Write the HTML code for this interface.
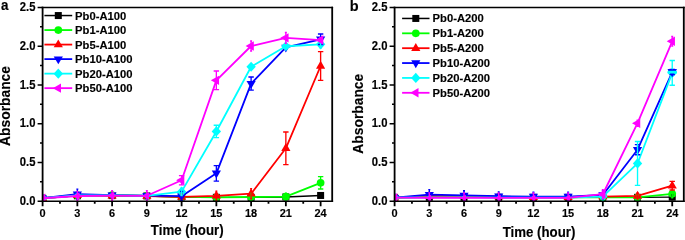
<!DOCTYPE html>
<html lang="en">
<head>
<meta charset="utf-8">
<title>Absorbance vs time</title>
<style>
html,body{margin:0;padding:0;background:#fff;}
body{width:685px;height:240px;overflow:hidden;}
svg{display:block;}
text{font-family:"Liberation Sans",Arial,Helvetica,sans-serif;font-weight:bold;fill:#000;stroke:#000;stroke-width:0.15px;}
.t{font-size:12.0px;}
.tx{font-size:11.8px;}
.a{font-size:13.8px;}
.ay{font-size:14.4px;}
.l{font-size:11.6px;}
.p{font-size:14.6px;}
.pb{font-size:14.5px;}
</style>
</head>
<body>
<svg width="685" height="240" viewBox="0 0 685 240">
<rect width="685" height="240" fill="#fff"/>
<g id="panel-a">
<clipPath id="clip-a"><rect x="42.60" y="7.50" width="289.60" height="193.70"/></clipPath>
<g clip-path="url(#clip-a)">
<polyline points="42.60,198.26 77.35,195.78 112.10,195.62 146.86,195.93 181.61,196.94 216.36,197.33 251.11,197.33 285.86,196.94 320.62,195.47" fill="none" stroke="#000000" stroke-width="1.4" stroke-linejoin="round"/>
<rect x="39.10" y="194.76" width="7.00" height="7.00" fill="#000000"/>
<rect x="73.85" y="192.28" width="7.00" height="7.00" fill="#000000"/>
<rect x="108.60" y="192.12" width="7.00" height="7.00" fill="#000000"/>
<rect x="143.36" y="192.43" width="7.00" height="7.00" fill="#000000"/>
<rect x="178.11" y="193.44" width="7.00" height="7.00" fill="#000000"/>
<rect x="212.86" y="193.83" width="7.00" height="7.00" fill="#000000"/>
<rect x="247.61" y="193.83" width="7.00" height="7.00" fill="#000000"/>
<rect x="282.36" y="193.44" width="7.00" height="7.00" fill="#000000"/>
<rect x="317.12" y="191.97" width="7.00" height="7.00" fill="#000000"/>
<polyline points="42.60,198.26 77.35,195.39 112.10,195.00 146.86,195.78 181.61,196.94 216.36,197.33 251.11,197.02 285.86,196.71 320.62,182.84" fill="none" stroke="#00ff00" stroke-width="1.8" stroke-linejoin="round"/>
<circle cx="42.60" cy="198.26" r="3.85" fill="#00ff00"/>
<circle cx="77.35" cy="195.39" r="3.85" fill="#00ff00"/>
<circle cx="112.10" cy="195.00" r="3.85" fill="#00ff00"/>
<circle cx="146.86" cy="195.78" r="3.85" fill="#00ff00"/>
<circle cx="181.61" cy="196.94" r="3.85" fill="#00ff00"/>
<circle cx="216.36" cy="197.33" r="3.85" fill="#00ff00"/>
<circle cx="251.11" cy="197.02" r="3.85" fill="#00ff00"/>
<circle cx="285.86" cy="196.71" r="3.85" fill="#00ff00"/>
<circle cx="320.62" cy="182.84" r="3.85" fill="#00ff00"/>
<polyline points="42.60,198.26 77.35,195.39 112.10,195.78 146.86,196.09 181.61,196.94 216.36,195.78 251.11,193.68 285.86,148.28 320.62,66.00" fill="none" stroke="#ff0000" stroke-width="1.8" stroke-linejoin="round"/>
<polygon points="42.60,193.06 47.20,200.96 38.00,200.96" fill="#ff0000"/>
<polygon points="77.35,190.19 81.95,198.09 72.75,198.09" fill="#ff0000"/>
<polygon points="112.10,190.58 116.70,198.48 107.50,198.48" fill="#ff0000"/>
<polygon points="146.86,190.89 151.46,198.79 142.26,198.79" fill="#ff0000"/>
<polygon points="181.61,191.74 186.21,199.64 177.01,199.64" fill="#ff0000"/>
<polygon points="216.36,190.58 220.96,198.48 211.76,198.48" fill="#ff0000"/>
<polygon points="251.11,188.48 255.71,196.38 246.51,196.38" fill="#ff0000"/>
<polygon points="285.86,143.08 290.46,150.98 281.26,150.98" fill="#ff0000"/>
<polygon points="320.62,60.80 325.22,68.70 316.02,68.70" fill="#ff0000"/>
<polyline points="42.60,198.26 77.35,194.23 112.10,195.16 146.86,195.62 181.61,196.16 216.36,173.31 251.11,83.59 285.86,47.40 320.62,39.27" fill="none" stroke="#0000ff" stroke-width="1.8" stroke-linejoin="round"/>
<polygon points="42.60,203.46 47.20,195.56 38.00,195.56" fill="#0000ff"/>
<polygon points="77.35,199.43 81.95,191.53 72.75,191.53" fill="#0000ff"/>
<polygon points="112.10,200.36 116.70,192.46 107.50,192.46" fill="#0000ff"/>
<polygon points="146.86,200.82 151.46,192.92 142.26,192.92" fill="#0000ff"/>
<polygon points="181.61,201.36 186.21,193.46 177.01,193.46" fill="#0000ff"/>
<polygon points="216.36,178.51 220.96,170.61 211.76,170.61" fill="#0000ff"/>
<polygon points="251.11,88.79 255.71,80.89 246.51,80.89" fill="#0000ff"/>
<polygon points="285.86,52.60 290.46,44.70 281.26,44.70" fill="#0000ff"/>
<polygon points="320.62,44.47 325.22,36.57 316.02,36.57" fill="#0000ff"/>
<polyline points="42.60,198.26 77.35,195.39 112.10,195.39 146.86,195.78 181.61,191.67 216.36,131.47 251.11,66.77 285.86,46.24 320.62,44.30" fill="none" stroke="#00ffff" stroke-width="1.8" stroke-linejoin="round"/>
<polygon points="42.60,193.16 47.30,198.26 42.60,203.36 37.90,198.26" fill="#00ffff"/>
<polygon points="77.35,191.82 80.64,195.39 77.35,198.96 74.06,195.39" fill="#00ffff"/>
<polygon points="112.10,191.82 115.39,195.39 112.10,198.96 108.81,195.39" fill="#00ffff"/>
<polygon points="146.86,192.21 150.15,195.78 146.86,199.35 143.57,195.78" fill="#00ffff"/>
<polygon points="181.61,186.57 186.31,191.67 181.61,196.77 176.91,191.67" fill="#00ffff"/>
<polygon points="216.36,126.37 221.06,131.47 216.36,136.57 211.66,131.47" fill="#00ffff"/>
<polygon points="251.11,61.67 255.81,66.77 251.11,71.87 246.41,66.77" fill="#00ffff"/>
<polygon points="285.86,41.14 290.56,46.24 285.86,51.34 281.16,46.24" fill="#00ffff"/>
<polygon points="320.62,39.20 325.32,44.30 320.62,49.40 315.92,44.30" fill="#00ffff"/>
<path d="M251.11,193.14V200.89M250.11,193.14h2.00M250.11,200.89h2.00M285.86,193.22V200.19M284.86,193.22h2.00M284.86,200.19h2.00M320.62,176.64V189.04M317.92,176.64h5.40M317.92,189.04h5.40" stroke="#00ff00" stroke-width="1.35" fill="none"/>
<path d="M112.10,192.68V198.88M111.10,192.68h2.00M111.10,198.88h2.00M146.86,193.76V198.41M145.86,193.76h2.00M145.86,198.41h2.00M181.61,193.84V200.04M180.61,193.84h2.00M180.61,200.04h2.00M216.36,191.13V200.43M215.36,191.13h2.00M215.36,200.43h2.00M251.11,188.65V198.72M250.11,188.65h2.00M250.11,198.72h2.00M285.86,132.01V164.55M283.16,132.01h5.40M283.16,164.55h5.40M320.62,51.66V80.33M317.92,51.66h5.40M317.92,80.33h5.40" stroke="#ff0000" stroke-width="1.35" fill="none"/>
<path d="M77.35,189.19V199.26M76.35,189.19h2.00M76.35,199.26h2.00M112.10,192.83V197.48M111.10,192.83h2.00M111.10,197.48h2.00M146.86,193.30V197.95M145.86,193.30h2.00M145.86,197.95h2.00M181.61,191.51V200.81M180.01,191.51h3.20M180.01,200.81h3.20M216.36,165.56V181.06M213.66,165.56h5.40M213.66,181.06h5.40M251.11,77.00V90.17M248.41,77.00h5.40M248.41,90.17h5.40M320.62,34.00V44.54M317.92,34.00h5.40M317.92,44.54h5.40" stroke="#0000ff" stroke-width="1.35" fill="none"/>
<path d="M181.61,187.80V195.54M180.61,187.80h2.00M180.61,195.54h2.00M216.36,125.27V137.67M213.66,125.27h5.40M213.66,137.67h5.40M251.11,64.45V69.10M250.11,64.45h2.00M250.11,69.10h2.00M285.86,43.92V48.56M284.86,43.92h2.00M284.86,48.56h2.00M320.62,40.43V48.18M319.62,40.43h2.00M319.62,48.18h2.00" stroke="#00ffff" stroke-width="1.35" fill="none"/>
<polyline points="42.60,198.26 77.35,196.01 112.10,195.62 146.86,195.78 181.61,180.20 216.36,80.33 251.11,46.01 285.86,37.87 320.62,40.04" fill="none" stroke="#ff00ff" stroke-width="1.8" stroke-linejoin="round"/>
<polygon points="37.10,198.26 45.30,193.56 45.30,202.96" fill="#ff00ff"/>
<polygon points="72.95,196.01 79.51,192.25 79.51,199.77" fill="#ff00ff"/>
<polygon points="107.70,195.62 114.26,191.86 114.26,199.38" fill="#ff00ff"/>
<polygon points="142.46,195.78 149.02,192.02 149.02,199.54" fill="#ff00ff"/>
<polygon points="176.11,180.20 184.31,175.50 184.31,184.90" fill="#ff00ff"/>
<polygon points="210.86,80.33 219.06,75.63 219.06,85.03" fill="#ff00ff"/>
<polygon points="245.61,46.01 253.81,41.31 253.81,50.71" fill="#ff00ff"/>
<polygon points="280.36,37.87 288.56,33.17 288.56,42.57" fill="#ff00ff"/>
<polygon points="315.12,40.04 323.32,35.34 323.32,44.74" fill="#ff00ff"/>
<path d="M42.60,195.93V200.58M41.60,195.93h2.00M41.60,200.58h2.00M77.35,191.36V200.66M76.35,191.36h2.00M76.35,200.66h2.00M112.10,190.59V200.66M111.10,190.59h2.00M111.10,200.66h2.00M146.86,190.74V200.81M145.86,190.74h2.00M145.86,200.81h2.00M181.61,175.55V184.85M178.91,175.55h5.40M178.91,184.85h5.40M216.36,71.03V89.63M213.66,71.03h5.40M213.66,89.63h5.40M251.11,40.97V51.04M250.11,40.97h2.00M250.11,51.04h2.00M285.86,32.45V43.30M284.86,32.45h2.00M284.86,43.30h2.00M320.62,37.72V42.37M319.62,37.72h2.00M319.62,42.37h2.00" stroke="#ff00ff" stroke-width="1.35" fill="none"/>
</g>
<path d="M41.70,7.50H333.10M41.70,201.20H333.10" fill="none" stroke="#000" stroke-width="1.5"/>
<path d="M42.60,6.75V201.95M332.20,6.75V201.95" fill="none" stroke="#000" stroke-width="1.8"/>
<path d="M42.60,201.20h-5.0M42.60,181.83h-2.6M42.60,162.46h-5.0M42.60,143.09h-2.6M42.60,123.72h-5.0M42.60,104.35h-2.6M42.60,84.98h-5.0M42.60,65.61h-2.6M42.60,46.24h-5.0M42.60,26.87h-2.6M42.60,7.50h-5.0" stroke="#000" stroke-width="1.5" fill="none"/>
<path d="M42.60,201.20v5.0M59.98,201.20v2.6M77.35,201.20v5.0M94.73,201.20v2.6M112.10,201.20v5.0M129.48,201.20v2.6M146.86,201.20v5.0M164.23,201.20v2.6M181.61,201.20v5.0M198.98,201.20v2.6M216.36,201.20v5.0M233.74,201.20v2.6M251.11,201.20v5.0M268.49,201.20v2.6M285.86,201.20v5.0M303.24,201.20v2.6M320.62,201.20v5.0" stroke="#000" stroke-width="1.8" fill="none"/>
<text class="t" transform="translate(35.50,204.75) scale(0.94,1)" text-anchor="end">0.0</text>
<text class="t" transform="translate(35.50,166.08) scale(0.94,1)" text-anchor="end">0.5</text>
<text class="t" transform="translate(35.50,127.41) scale(0.94,1)" text-anchor="end">1.0</text>
<text class="t" transform="translate(35.50,88.74) scale(0.94,1)" text-anchor="end">1.5</text>
<text class="t" transform="translate(35.50,50.07) scale(0.94,1)" text-anchor="end">2.0</text>
<text class="t" transform="translate(35.50,11.40) scale(0.94,1)" text-anchor="end">2.5</text>
<text class="tx" transform="translate(42.60,217.10) scale(0.93,1)" text-anchor="middle">0</text>
<text class="tx" transform="translate(77.35,217.10) scale(0.93,1)" text-anchor="middle">3</text>
<text class="tx" transform="translate(112.10,217.10) scale(0.93,1)" text-anchor="middle">6</text>
<text class="tx" transform="translate(146.86,217.10) scale(0.93,1)" text-anchor="middle">9</text>
<text class="tx" transform="translate(181.61,217.10) scale(0.93,1)" text-anchor="middle">12</text>
<text class="tx" transform="translate(216.36,217.10) scale(0.93,1)" text-anchor="middle">15</text>
<text class="tx" transform="translate(251.11,217.10) scale(0.93,1)" text-anchor="middle">18</text>
<text class="tx" transform="translate(285.86,217.10) scale(0.93,1)" text-anchor="middle">21</text>
<text class="tx" transform="translate(320.62,217.10) scale(0.93,1)" text-anchor="middle">24</text>
<text class="a" transform="translate(187.20,234.50) scale(0.962,1)" text-anchor="middle">Time (hour)</text>
<text class="ay" transform="translate(10.20,105.95) rotate(-90) scale(0.96,1)" text-anchor="middle">Absorbance</text>
<text class="p" transform="translate(1.00,10.10) scale(0.92,1)">a</text>
<path d="M44.4,15.55H72.2" stroke="#000000" stroke-width="1.5"/>
<rect x="54.80" y="12.05" width="7.00" height="7.00" fill="#000000"/>
<text class="l" transform="translate(75.10,19.55) scale(0.97,1)">Pb0-A100</text>
<path d="M44.4,30.07H72.2" stroke="#00ff00" stroke-width="1.8"/>
<circle cx="58.30" cy="30.07" r="3.85" fill="#00ff00"/>
<text class="l" transform="translate(75.10,34.07) scale(0.97,1)">Pb1-A100</text>
<path d="M44.4,44.59H72.2" stroke="#ff0000" stroke-width="1.8"/>
<polygon points="58.30,39.39 62.90,47.29 53.70,47.29" fill="#ff0000"/>
<text class="l" transform="translate(75.10,48.59) scale(0.97,1)">Pb5-A100</text>
<path d="M44.4,59.11H72.2" stroke="#0000ff" stroke-width="1.8"/>
<polygon points="58.30,64.31 62.90,56.41 53.70,56.41" fill="#0000ff"/>
<text class="l" transform="translate(75.10,63.11) scale(0.97,1)">Pb10-A100</text>
<path d="M44.4,73.63H72.2" stroke="#00ffff" stroke-width="1.8"/>
<polygon points="58.30,68.53 63.00,73.63 58.30,78.73 53.60,73.63" fill="#00ffff"/>
<text class="l" transform="translate(75.10,77.63) scale(0.97,1)">Pb20-A100</text>
<path d="M44.4,88.15H72.2" stroke="#ff00ff" stroke-width="1.8"/>
<polygon points="52.80,88.15 61.00,83.45 61.00,92.85" fill="#ff00ff"/>
<text class="l" transform="translate(75.10,92.15) scale(0.97,1)">Pb50-A100</text>
</g>
<g id="panel-b">
<clipPath id="clip-b"><rect x="394.60" y="7.50" width="289.20" height="193.70"/></clipPath>
<g clip-path="url(#clip-b)">
<polyline points="394.60,197.71 429.30,197.33 464.01,197.33 498.71,197.33 533.42,197.33 568.12,197.33 602.82,197.33 637.53,197.33 672.23,197.17" fill="none" stroke="#000000" stroke-width="1.4" stroke-linejoin="round"/>
<rect x="391.10" y="194.21" width="7.00" height="7.00" fill="#000000"/>
<rect x="425.80" y="193.83" width="7.00" height="7.00" fill="#000000"/>
<rect x="460.51" y="193.83" width="7.00" height="7.00" fill="#000000"/>
<rect x="495.21" y="193.83" width="7.00" height="7.00" fill="#000000"/>
<rect x="529.92" y="193.83" width="7.00" height="7.00" fill="#000000"/>
<rect x="564.62" y="193.83" width="7.00" height="7.00" fill="#000000"/>
<rect x="599.32" y="193.83" width="7.00" height="7.00" fill="#000000"/>
<rect x="634.03" y="193.83" width="7.00" height="7.00" fill="#000000"/>
<rect x="668.73" y="193.67" width="7.00" height="7.00" fill="#000000"/>
<polyline points="394.60,197.71 429.30,196.94 464.01,196.94 498.71,197.33 533.42,197.33 568.12,197.33 602.82,197.33 637.53,197.33 672.23,193.84" fill="none" stroke="#00ff00" stroke-width="1.8" stroke-linejoin="round"/>
<circle cx="394.60" cy="197.71" r="3.85" fill="#00ff00"/>
<circle cx="429.30" cy="196.94" r="2.69" fill="#00ff00"/>
<circle cx="464.01" cy="196.94" r="2.69" fill="#00ff00"/>
<circle cx="498.71" cy="197.33" r="2.69" fill="#00ff00"/>
<circle cx="533.42" cy="197.33" r="2.69" fill="#00ff00"/>
<circle cx="568.12" cy="197.33" r="2.69" fill="#00ff00"/>
<circle cx="602.82" cy="197.33" r="3.85" fill="#00ff00"/>
<circle cx="637.53" cy="197.33" r="3.85" fill="#00ff00"/>
<circle cx="672.23" cy="193.84" r="3.85" fill="#00ff00"/>
<polyline points="394.60,197.71 429.30,195.78 464.01,196.16 498.71,196.55 533.42,197.33 568.12,197.33 602.82,196.55 637.53,195.93 672.23,185.70" fill="none" stroke="#ff0000" stroke-width="1.8" stroke-linejoin="round"/>
<polygon points="394.60,192.51 399.20,200.41 390.00,200.41" fill="#ff0000"/>
<polygon points="429.30,190.58 433.90,198.48 424.70,198.48" fill="#ff0000"/>
<polygon points="464.01,190.96 468.61,198.86 459.41,198.86" fill="#ff0000"/>
<polygon points="498.71,191.35 503.31,199.25 494.11,199.25" fill="#ff0000"/>
<polygon points="533.42,192.13 538.02,200.03 528.82,200.03" fill="#ff0000"/>
<polygon points="568.12,192.13 572.72,200.03 563.52,200.03" fill="#ff0000"/>
<polygon points="602.82,191.35 607.42,199.25 598.22,199.25" fill="#ff0000"/>
<polygon points="637.53,190.73 642.13,198.63 632.93,198.63" fill="#ff0000"/>
<polygon points="672.23,180.50 676.83,188.40 667.63,188.40" fill="#ff0000"/>
<polyline points="394.60,197.71 429.30,194.61 464.01,195.39 498.71,196.16 533.42,196.55 568.12,196.55 602.82,195.00 637.53,149.68 672.23,72.04" fill="none" stroke="#0000ff" stroke-width="1.8" stroke-linejoin="round"/>
<polygon points="394.60,202.91 399.20,195.01 390.00,195.01" fill="#0000ff"/>
<polygon points="429.30,199.81 433.90,191.91 424.70,191.91" fill="#0000ff"/>
<polygon points="464.01,200.59 468.61,192.69 459.41,192.69" fill="#0000ff"/>
<polygon points="498.71,201.36 503.31,193.46 494.11,193.46" fill="#0000ff"/>
<polygon points="533.42,201.75 538.02,193.85 528.82,193.85" fill="#0000ff"/>
<polygon points="568.12,201.75 572.72,193.85 563.52,193.85" fill="#0000ff"/>
<polygon points="602.82,200.20 607.42,192.30 598.22,192.30" fill="#0000ff"/>
<polygon points="637.53,154.88 642.13,146.98 632.93,146.98" fill="#0000ff"/>
<polygon points="672.23,77.24 676.83,69.34 667.63,69.34" fill="#0000ff"/>
<polyline points="394.60,197.71 429.30,197.33 464.01,197.33 498.71,197.71 533.42,197.71 568.12,197.71 602.82,196.55 637.53,163.47 672.23,72.89" fill="none" stroke="#00ffff" stroke-width="1.8" stroke-linejoin="round"/>
<polygon points="394.60,192.61 399.30,197.71 394.60,202.81 389.90,197.71" fill="#00ffff"/>
<polygon points="429.30,194.78 431.65,197.33 429.30,199.88 426.95,197.33" fill="#00ffff"/>
<polygon points="464.01,194.78 466.36,197.33 464.01,199.88 461.66,197.33" fill="#00ffff"/>
<polygon points="498.71,195.16 501.06,197.71 498.71,200.26 496.36,197.71" fill="#00ffff"/>
<polygon points="533.42,195.16 535.77,197.71 533.42,200.26 531.07,197.71" fill="#00ffff"/>
<polygon points="568.12,195.16 570.47,197.71 568.12,200.26 565.77,197.71" fill="#00ffff"/>
<polygon points="602.82,191.45 607.52,196.55 602.82,201.65 598.12,196.55" fill="#00ffff"/>
<polygon points="637.53,158.37 642.23,163.47 637.53,168.57 632.83,163.47" fill="#00ffff"/>
<polygon points="672.23,67.79 676.93,72.89 672.23,77.99 667.53,72.89" fill="#00ffff"/>
<path d="M672.23,194.85V199.50M671.23,194.85h2.00M671.23,199.50h2.00" stroke="#000000" stroke-width="1.35" fill="none"/>
<path d="M637.53,195.00V199.65M636.53,195.00h2.00M636.53,199.65h2.00M672.23,189.97V197.71M671.23,189.97h2.00M671.23,197.71h2.00" stroke="#00ff00" stroke-width="1.35" fill="none"/>
<path d="M602.82,194.23V198.88M601.82,194.23h2.00M601.82,198.88h2.00M637.53,192.83V199.03M636.53,192.83h2.00M636.53,199.03h2.00M672.23,181.44V189.97M669.53,181.44h5.40M669.53,189.97h5.40" stroke="#ff0000" stroke-width="1.35" fill="none"/>
<path d="M429.30,189.58V199.65M428.30,189.58h2.00M428.30,199.65h2.00M464.01,190.74V200.04M463.01,190.74h2.00M463.01,200.04h2.00M498.71,191.90V200.43M497.71,191.90h2.00M497.71,200.43h2.00M533.42,192.29V200.81M532.42,192.29h2.00M532.42,200.81h2.00M568.12,192.29V200.81M567.12,192.29h2.00M567.12,200.81h2.00M602.82,190.74V199.26M601.82,190.74h2.00M601.82,199.26h2.00M637.53,144.56V154.79M634.83,144.56h5.40M634.83,154.79h5.40M672.23,69.48V74.60M669.53,69.48h5.40M669.53,74.60h5.40" stroke="#0000ff" stroke-width="1.35" fill="none"/>
<path d="M602.82,194.23V198.88M601.82,194.23h2.00M601.82,198.88h2.00M637.53,141.54V185.39M634.83,141.54h5.40M634.83,185.39h5.40M672.23,60.50V85.29M669.53,60.50h5.40M669.53,85.29h5.40" stroke="#00ffff" stroke-width="1.35" fill="none"/>
<polygon points="672.23,77.24 676.83,69.34 667.63,69.34" fill="#0000ff"/>
<rect x="667.43" y="70.84" width="9.6" height="2.60" rx="1.2" fill="#00ffff"/>
<polyline points="394.60,197.71 429.30,197.95 464.01,197.95 498.71,197.95 533.42,197.95 568.12,197.95 602.82,194.23 637.53,123.18 672.23,41.28" fill="none" stroke="#ff00ff" stroke-width="1.8" stroke-linejoin="round"/>
<polygon points="389.10,197.71 397.30,193.01 397.30,202.41" fill="#ff00ff"/>
<polygon points="425.45,197.95 431.19,194.66 431.19,201.24" fill="#ff00ff"/>
<polygon points="460.16,197.95 465.90,194.66 465.90,201.24" fill="#ff00ff"/>
<polygon points="494.86,197.95 500.60,194.66 500.60,201.24" fill="#ff00ff"/>
<polygon points="529.57,197.95 535.31,194.66 535.31,201.24" fill="#ff00ff"/>
<polygon points="564.27,197.95 570.01,194.66 570.01,201.24" fill="#ff00ff"/>
<polygon points="597.32,194.23 605.52,189.53 605.52,198.93" fill="#ff00ff"/>
<polygon points="632.03,123.18 640.23,118.48 640.23,127.88" fill="#ff00ff"/>
<polygon points="666.73,41.28 674.93,36.58 674.93,45.98" fill="#ff00ff"/>
<path d="M394.60,195.39V200.04M393.60,195.39h2.00M393.60,200.04h2.00M429.30,192.91V202.98M428.30,192.91h2.00M428.30,202.98h2.00M464.01,192.91V202.98M463.01,192.91h2.00M463.01,202.98h2.00M498.71,192.91V202.98M497.71,192.91h2.00M497.71,202.98h2.00M533.42,192.91V202.98M532.42,192.91h2.00M532.42,202.98h2.00M568.12,192.91V202.98M567.12,192.91h2.00M567.12,202.98h2.00M602.82,189.58V198.88M601.82,189.58h2.00M601.82,198.88h2.00M637.53,120.08V126.28M636.53,120.08h2.00M636.53,126.28h2.00M672.23,36.48V46.09M671.23,36.48h2.00M671.23,46.09h2.00" stroke="#ff00ff" stroke-width="1.35" fill="none"/>
</g>
<path d="M393.70,7.50H684.70M393.70,201.20H684.70" fill="none" stroke="#000" stroke-width="1.5"/>
<path d="M394.60,6.75V201.95M683.80,6.75V201.95" fill="none" stroke="#000" stroke-width="1.8"/>
<path d="M394.60,201.20h-5.0M394.60,181.83h-2.6M394.60,162.46h-5.0M394.60,143.09h-2.6M394.60,123.72h-5.0M394.60,104.35h-2.6M394.60,84.98h-5.0M394.60,65.61h-2.6M394.60,46.24h-5.0M394.60,26.87h-2.6M394.60,7.50h-5.0" stroke="#000" stroke-width="1.5" fill="none"/>
<path d="M394.60,201.20v5.0M411.95,201.20v2.6M429.30,201.20v5.0M446.66,201.20v2.6M464.01,201.20v5.0M481.36,201.20v2.6M498.71,201.20v5.0M516.06,201.20v2.6M533.42,201.20v5.0M550.77,201.20v2.6M568.12,201.20v5.0M585.47,201.20v2.6M602.82,201.20v5.0M620.18,201.20v2.6M637.53,201.20v5.0M654.88,201.20v2.6M672.23,201.20v5.0" stroke="#000" stroke-width="1.8" fill="none"/>
<text class="t" transform="translate(387.50,204.75) scale(0.94,1)" text-anchor="end">0.0</text>
<text class="t" transform="translate(387.50,166.08) scale(0.94,1)" text-anchor="end">0.5</text>
<text class="t" transform="translate(387.50,127.41) scale(0.94,1)" text-anchor="end">1.0</text>
<text class="t" transform="translate(387.50,88.74) scale(0.94,1)" text-anchor="end">1.5</text>
<text class="t" transform="translate(387.50,50.07) scale(0.94,1)" text-anchor="end">2.0</text>
<text class="t" transform="translate(387.50,11.40) scale(0.94,1)" text-anchor="end">2.5</text>
<text class="tx" transform="translate(394.60,217.10) scale(0.93,1)" text-anchor="middle">0</text>
<text class="tx" transform="translate(429.30,217.10) scale(0.93,1)" text-anchor="middle">3</text>
<text class="tx" transform="translate(464.01,217.10) scale(0.93,1)" text-anchor="middle">6</text>
<text class="tx" transform="translate(498.71,217.10) scale(0.93,1)" text-anchor="middle">9</text>
<text class="tx" transform="translate(533.42,217.10) scale(0.93,1)" text-anchor="middle">12</text>
<text class="tx" transform="translate(568.12,217.10) scale(0.93,1)" text-anchor="middle">15</text>
<text class="tx" transform="translate(602.82,217.10) scale(0.93,1)" text-anchor="middle">18</text>
<text class="tx" transform="translate(637.53,217.10) scale(0.93,1)" text-anchor="middle">21</text>
<text class="tx" transform="translate(672.23,217.10) scale(0.93,1)" text-anchor="middle">24</text>
<text class="a" transform="translate(539.00,237.00) scale(0.962,1)" text-anchor="middle">Time (hour)</text>
<text class="ay" transform="translate(362.80,113.70) rotate(-90) scale(0.96,1)" text-anchor="middle">Absorbance</text>
<text class="pb" transform="translate(349.70,10.50) scale(1.0,1)">b</text>
<path d="M402.1,18.45H429.5" stroke="#000000" stroke-width="1.5"/>
<rect x="412.30" y="14.95" width="7.00" height="7.00" fill="#000000"/>
<text class="l" transform="translate(432.60,22.45) scale(0.97,1)">Pb0-A200</text>
<path d="M402.1,33.32H429.5" stroke="#00ff00" stroke-width="1.8"/>
<circle cx="415.80" cy="33.32" r="3.85" fill="#00ff00"/>
<text class="l" transform="translate(432.60,37.32) scale(0.97,1)">Pb1-A200</text>
<path d="M402.1,48.19H429.5" stroke="#ff0000" stroke-width="1.8"/>
<polygon points="415.80,42.99 420.40,50.89 411.20,50.89" fill="#ff0000"/>
<text class="l" transform="translate(432.60,52.19) scale(0.97,1)">Pb5-A200</text>
<path d="M402.1,63.06H429.5" stroke="#0000ff" stroke-width="1.8"/>
<polygon points="415.80,68.26 420.40,60.36 411.20,60.36" fill="#0000ff"/>
<text class="l" transform="translate(432.60,67.06) scale(0.97,1)">Pb10-A200</text>
<path d="M402.1,77.93H429.5" stroke="#00ffff" stroke-width="1.8"/>
<polygon points="415.80,72.83 420.50,77.93 415.80,83.03 411.10,77.93" fill="#00ffff"/>
<text class="l" transform="translate(432.60,81.93) scale(0.97,1)">Pb20-A200</text>
<path d="M402.1,92.80H429.5" stroke="#ff00ff" stroke-width="1.8"/>
<polygon points="410.30,92.80 418.50,88.10 418.50,97.50" fill="#ff00ff"/>
<text class="l" transform="translate(432.60,96.80) scale(0.97,1)">Pb50-A200</text>
</g>
</svg>
</body>
</html>
